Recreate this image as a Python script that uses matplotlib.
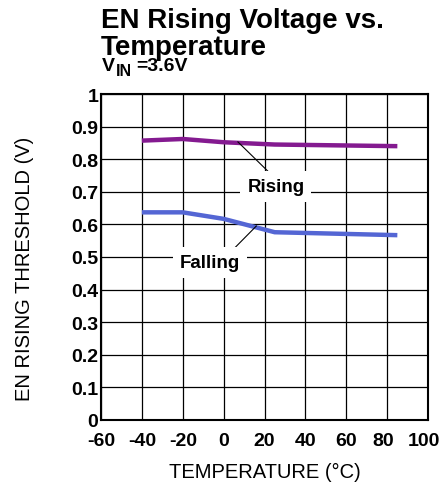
import matplotlib
matplotlib.use("Agg")
import matplotlib.pyplot as plt
import matplotlib.transforms as mtransforms

plt.rcParams['font.family'] = ['Liberation Sans', 'DejaVu Sans']
plt.rcParams['axes.unicode_minus'] = False

temps = [-40, -20, 0, 25, 85]
rising = [0.857, 0.862, 0.852, 0.845, 0.840]
falling = [0.637, 0.637, 0.617, 0.576, 0.567]
xticks = [-60, -40, -20, 0, 20, 40, 60, 80, 100]
yticks = [0, 0.1, 0.2, 0.3, 0.4, 0.5, 0.6, 0.7, 0.8, 0.9, 1]
ytick_labels = ['0', '0.1', '0.2', '0.3', '0.4', '0.5', '0.6', '0.7', '0.8', '0.9', '1']

W, H = 442, 485
fig = plt.figure(figsize=(W / 100, H / 100), dpi=100)
ax = fig.add_axes([101 / W, 64 / H, 327 / W, 326 / H])

ax.plot(temps, rising, color='#841a90', lw=3.2, solid_capstyle='butt', zorder=3)
ax.plot(temps, falling, color='#5466d4', lw=3.2, solid_capstyle='butt', zorder=3)

ax.set_xlim(-60, 100)
ax.set_ylim(0, 1)
ax.set_xticks(xticks)
ax.set_yticks(yticks)
ax.set_yticklabels(ytick_labels)
ax.tick_params(length=0, labelsize=14)
ax.tick_params(axis='x', pad=9)
ax.tick_params(axis='y', pad=2)
for lab in ax.get_xticklabels() + ax.get_yticklabels():
    lab.set_fontweight('bold')
xl = ax.get_xticklabels()
for lab, dx in zip(xl[-2:], [-4, -4]):
    lab.set_transform(lab.get_transform() + mtransforms.ScaledTranslation(dx / 100, 0, fig.dpi_scale_trans))
ax.grid(True, color='black', lw=0.9)
for s in ax.spines.values():
    s.set_linewidth(1.5)

ax.set_xlabel('TEMPERATURE (°C)', fontsize=14.5, labelpad=9)
ax.set_ylabel('EN RISING THRESHOLD (V)', fontsize=14.5)
ax.yaxis.set_label_coords(-0.205, 0.466)

# annotations
ax.plot([7, 22.5], [0.853, 0.758], color='black', lw=0.8, zorder=4)
ax.text(25.6, 0.716, 'Rising', fontsize=13.5, fontweight='bold', ha='center', va='center', zorder=5,
        bbox=dict(facecolor='white', edgecolor='none', pad=5))
ax.plot([1.5, 16], [0.503, 0.595], color='black', lw=0.8, zorder=4)
ax.text(-6.7, 0.482, 'Falling', fontsize=13.5, fontweight='bold', ha='center', va='center', zorder=5,
        bbox=dict(facecolor='white', edgecolor='none', pad=5))

fig.text(101 / W, 1 - 28 / H, 'EN Rising Voltage vs.', fontsize=20,
         fontweight='bold', ha='left', va='baseline')
fig.text(101 / W, 1 - 55 / H, 'Temperature', fontsize=20,
         fontweight='bold', ha='left', va='baseline')
fig.text(102 / W, 1 - 71 / H, 'V', fontsize=14, fontweight='bold', ha='left', va='baseline')
fig.text(115.5 / W, 1 - 76 / H, 'IN', fontsize=11.5, fontweight='bold', ha='left', va='baseline')
fig.text(136 / W, 1 - 71 / H, '=3.6V', fontsize=14, fontweight='bold', ha='left', va='baseline')

fig.savefig('out.png', dpi=100)
